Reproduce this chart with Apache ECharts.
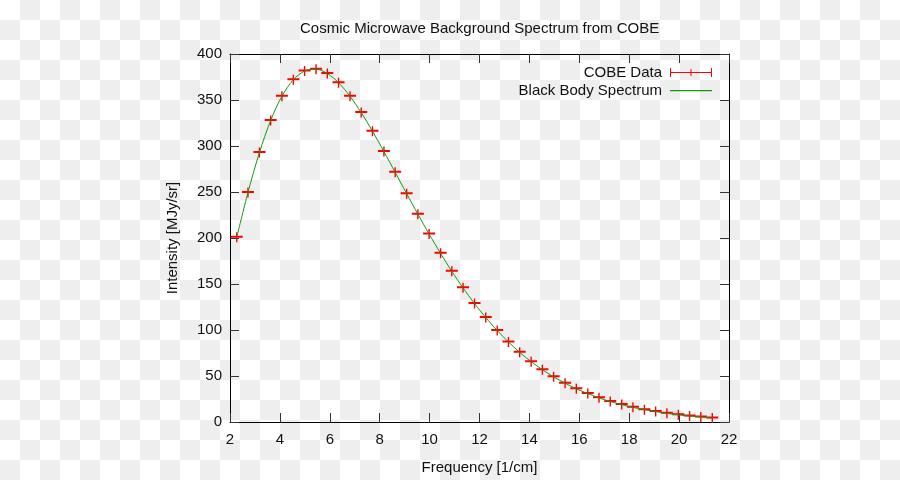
<!DOCTYPE html>
<html>
<head>
<meta charset="utf-8">
<script src="https://cdn.jsdelivr.net/npm/echarts@6/dist/echarts.min.js"></script>
<style>
html,body{margin:0;padding:0;}
body{background:repeating-conic-gradient(#eeeeee 0 25%, #ffffff 0 50%) 0 0/40px 40px;}
#chart{width:900px;height:480px;}
</style>
</head>
<body>
<div id="chart"></div>
<script>
// Data (COBE FIRAS monopole spectrum)
const frequency = [2.27,2.72,3.18,3.63,4.08,4.54,4.99,5.45,5.90,6.35,6.81,7.26,7.71,8.17,8.62,9.08,9.53,9.98,10.44,10.89,11.34,11.80,12.25,12.71,13.16,13.61,14.07,14.52,14.97,15.43,15.88,16.34,16.79,17.24,17.70,18.15,18.61,19.06,19.51,19.97,20.42,20.87,21.33];
const cobeIntensity = [200.7,249.5,293.0,327.8,354.1,372.1,381.5,383.5,378.9,368.8,354.1,336.3,316.1,293.9,271.4,248.2,225.9,204.3,183.3,163.8,145.8,128.8,113.6,99.5,87.0,75.7,65.6,56.9,49.1,42.2,36.1,30.9,26.3,22.3,18.9,15.9,13.4,11.3,9.4,7.8,6.5,5.4,4.4];
const blackBodyIntensity = [200.7,249.5,293.0,327.8,354.1,372.1,381.5,383.5,378.9,368.8,354.1,336.3,316.1,293.9,271.4,248.2,225.9,204.3,183.3,163.8,145.8,128.8,113.6,99.5,87.0,75.7,65.6,56.9,49.1,42.2,36.1,30.9,26.3,22.3,18.9,15.9,13.4,11.3,9.4,7.8,6.5,5.4,4.4];
const xTicks = {min: 2, max: 22, step: 2};
const yTicks = {min: 0, max: 400, step: 50};

const font = 'Liberation Sans, Arial, sans-serif';
const chart = echarts.init(document.getElementById('chart'), null, {renderer: 'canvas'});

const cobePairs = frequency.map((f, i) => [f, cobeIntensity[i]]);
const bbPairs = frequency.map((f, i) => [f, blackBodyIntensity[i]]);

const tickStyle = {show: true, inside: true, length: 9, lineStyle: {color: '#333', width: 1}};
const lineStyle = {show: true, onZero: false, lineStyle: {color: '#000', width: 1}};

chart.setOption({
  animation: false,
  textStyle: {fontFamily: font},
  title: {
    text: 'Cosmic Microwave Background Spectrum from COBE',
    left: 295, top: 16,
    textStyle: {fontFamily: font, fontSize: 15, fontWeight: 'normal', color: '#111'}
  },
  grid: {left: 230, right: 171, top: 54, bottom: 58},
  legend: {
    orient: 'vertical',
    right: 188, top: 65,
    padding: 0,
    align: 'right',
    itemWidth: 42, itemHeight: 9,
    itemGap: 3,
    textStyle: {fontFamily: font, fontSize: 15, color: '#111', lineHeight: 14, padding: [0, 3, 0, 0]},
    data: [
      {name: 'COBE Data', icon: 'path://M0,0H1V9H0ZM41,0H42V9H41ZM0,4H42V5H0ZM20.5,1H21.5V8H20.5Z'},
      {name: 'Black Body Spectrum', icon: 'path://M0,0L0.01,0ZM0,4H42V5.2H0ZM42,9L41.99,9Z'}
    ]
  },
  xAxis: [{
    type: 'value', min: xTicks.min, max: xTicks.max, interval: xTicks.step,
    position: 'bottom',
    name: 'Frequency [1/cm]', nameLocation: 'middle', nameGap: 38,
    nameTextStyle: {fontFamily: font, fontSize: 15, color: '#111'},
    axisLine: lineStyle, axisTick: tickStyle,
    axisLabel: {margin: 10, fontFamily: font, fontSize: 15, color: '#111'},
    splitLine: {show: false}
  }, {
    type: 'value', min: xTicks.min, max: xTicks.max, interval: xTicks.step,
    position: 'top',
    axisLine: lineStyle, axisTick: tickStyle,
    axisLabel: {show: false}, splitLine: {show: false}
  }],
  yAxis: [{
    type: 'value', min: yTicks.min, max: yTicks.max, interval: yTicks.step,
    position: 'left',
    name: 'Intensity [MJy/sr]', nameLocation: 'middle', nameGap: 50,
    nameTextStyle: {fontFamily: font, fontSize: 15, color: '#111'},
    axisLine: lineStyle, axisTick: tickStyle,
    axisLabel: {margin: 8, fontFamily: font, fontSize: 15, color: '#111'},
    splitLine: {show: false}
  }, {
    type: 'value', min: yTicks.min, max: yTicks.max, interval: yTicks.step,
    position: 'right',
    axisLine: lineStyle, axisTick: tickStyle,
    axisLabel: {show: false}, splitLine: {show: false}
  }],
  series: [{
    name: 'COBE Data',
    type: 'scatter',
    xAxisIndex: 0, yAxisIndex: 0,
    data: cobePairs,
    symbol: 'path://M0,3.5H12V5.5H0ZM5.3,0H6.7V10H5.3Z',
    symbolSize: [12, 10],
    itemStyle: {color: '#ff0000', opacity: 1},
    z: 2
  }, {
    name: 'Black Body Spectrum',
    type: 'line',
    xAxisIndex: 0, yAxisIndex: 0,
    data: bbPairs,
    smooth: 0.3,
    symbol: 'none',
    showSymbol: false,
    itemStyle: {color: '#109a10'},
    lineStyle: {color: '#109a10', width: 1},
    z: 3
  }]
});
</script>
</body>
</html>
